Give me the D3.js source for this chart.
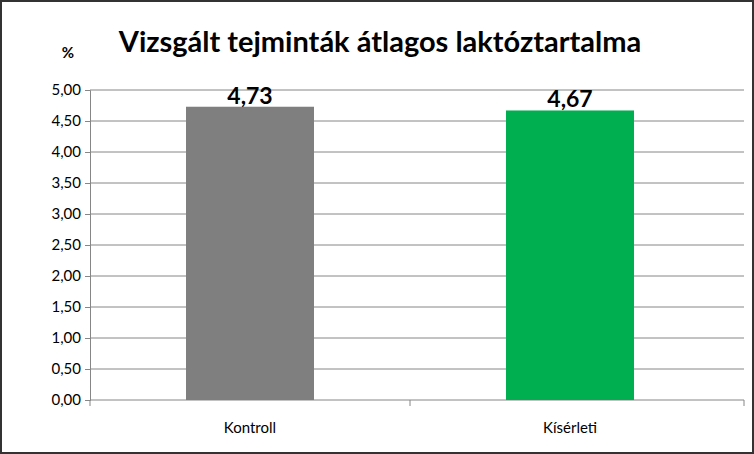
<!DOCTYPE html>
<html><head><meta charset="utf-8">
<script src="https://cdn.jsdelivr.net/npm/d3@7"></script>
<style>body{margin:0;background:#fff}svg{display:block}text{font-family:Lato,"Liberation Sans",sans-serif}</style>
</head><body>
<script>
const categories = ["Kontroll", "Kísérleti"];
const values = [4.73, 4.67];
const colors = ["#7f7f7f", "#00b050"];
const ticks = [0, 0.5, 1, 1.5, 2, 2.5, 3, 3.5, 4, 4.5, 5];
const W = 754, H = 454;
const svg = d3.select("body").append("svg").attr("width", W).attr("height", H);
svg.append("rect").attr("x",1).attr("y",1).attr("width",W-2).attr("height",H-2).attr("fill","#fff").attr("stroke","#333").attr("stroke-width",2);
const y = d3.scaleLinear().domain([0,5]).range([400,90]);
const x = d3.scaleBand().domain(categories).range([90,730]).paddingInner(0.6).paddingOuter(0.3);
const xb = d3.scaleBand().domain(categories).range([90,730]);
const fmt = v => v.toFixed(2).replace(".", ",");
svg.append("g").selectAll("line").data(ticks.filter(t=>t>0)).join("line")
  .attr("x1",90).attr("x2",744).attr("y1",d=>y(d)).attr("y2",d=>y(d)).attr("stroke","#868686");
const ya = svg.append("g").attr("transform","translate(90,0)")
  .call(d3.axisLeft(y).tickValues(ticks).tickFormat(fmt).tickSize(5).tickPadding(4));
ya.select(".domain").attr("stroke","#868686");
ya.selectAll("line").attr("stroke","#868686");
ya.selectAll("text").attr("font-size",15).attr("fill","#000");
svg.append("line").attr("x1",90).attr("x2",744).attr("y1",400).attr("y2",400).attr("stroke","#868686");
svg.append("g").selectAll("line").data([90, 90+xb.bandwidth(), 744]).join("line")
  .attr("x1",d=>d).attr("x2",d=>d).attr("y1",400).attr("y2",406).attr("stroke","#868686");
svg.append("g").selectAll("rect").data(values).join("rect")
  .attr("x",(d,i)=>x(categories[i])).attr("width",x.bandwidth())
  .attr("y",d=>y(d)).attr("height",d=>400-y(d)).attr("fill",(d,i)=>colors[i]);
svg.append("g").selectAll("text").data(values).join("text")
  .attr("x",(d,i)=>x(categories[i])+x.bandwidth()/2).attr("y",d=>y(d)-3)
  .attr("text-anchor","middle").attr("font-size",23).attr("font-weight","bold").text(fmt);
svg.append("g").selectAll("text").data(categories).join("text")
  .attr("x",d=>x(d)+x.bandwidth()/2).attr("y",433).attr("text-anchor","middle").attr("font-size",15).text(d=>d);
svg.append("text").attr("x",380).attr("y",52).attr("text-anchor","middle").attr("font-size",29).attr("font-weight","bold").text("Vizsgált tejminták átlagos laktóztartalma");
svg.append("text").attr("x",68).attr("y",58).attr("text-anchor","middle").attr("font-size",15).attr("font-weight","bold").text("%");
</script>
</body></html>
